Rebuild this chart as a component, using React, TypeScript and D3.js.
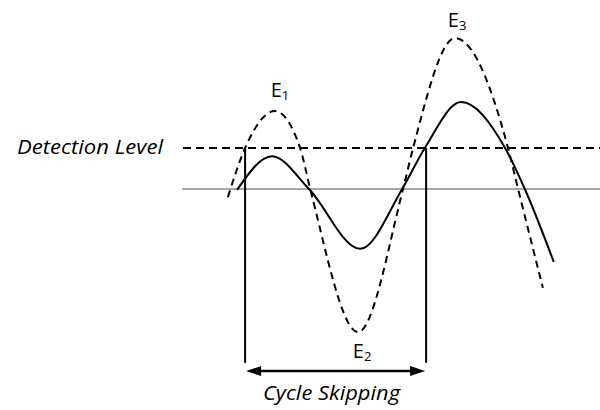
import React from "react";
import * as d3 from "d3";

// Time (arbitrary units) and amplitude (detection level = 1) samples
const solidT = [1.36, 2.19, 3.07, 4.29, 5.29, 5.83, 6.69, 7.74, 8.21, 8.9];
const solidA = [-0.02, 0.8, 0.0, -1.46, 0.0, 1.0, 2.12, 1.0, 0.0, -1.78];

const dashedT = [1.14, 1.55, 2.26, 2.86, 3.1, 4.24, 5.31, 5.55, 6.55, 7.81, 8.05, 8.64];
const dashedA = [-0.2, 1.0, 1.9, 1.0, 0.0, -3.49, 0.0, 1.0, 3.68, 1.0, 0.0, -2.41];

const detectionLevel = 1.0;
const skipStartT = 1.55;
const skipEndT = 5.86;

const extremaLabels = ["E", "E", "E"];
const extremaSubs = ["1", "2", "3"];
const extremaIdx = [2, 5, 8]; // indices into dashed series

const W = 600;
const H = 410;

export default function App() {
  const x = d3.scaleLinear().domain([0, 10]).range([180, 600]);
  const y = d3.scaleLinear().domain([0, 1]).range([189, 148]);

  const solidPts: [number, number][] = solidT.map((t, i) => [x(t), y(solidA[i])]);
  const dashedPts: [number, number][] = dashedT.map((t, i) => [x(t), y(dashedA[i])]);

  const line = d3.line().curve(d3.curveMonotoneX);

  const vBottom = y(-4.24);
  const arrowY = y(-4.44);
  const xs = x(skipStartT);
  const xe = x(skipEndT);
  const ah = 15;
  const aw = 5;

  const labelDx = [5, 4, 2];
  const labelDy = [-14, 26, -11];

  const font = "'Open Sans', sans-serif";

  return (
    <svg
      width={W}
      height={H}
      style={{ position: "absolute", left: 0, top: 0, background: "#fff" }}
    >
      {/* baseline */}
      <line x1={182} x2={W} y1={y(0)} y2={y(0)} stroke="#a6a6a6" strokeWidth={2} />
      {/* detection level */}
      <line
        x1={183}
        x2={W}
        y1={y(detectionLevel)}
        y2={y(detectionLevel)}
        stroke="#000"
        strokeWidth={1.8}
        strokeDasharray="8,5"
      />
      <text
        x={17}
        y={154}
        textLength={146}
        lengthAdjust="spacingAndGlyphs"
        fontFamily={font}
        fontStyle="italic"
        fontSize={20}
        fill="#000"
      >
        Detection Level
      </text>

      {/* curves */}
      <path d={line(dashedPts) || ""} fill="none" stroke="#000" strokeWidth={2} strokeDasharray="7,5" />
      <path d={line(solidPts) || ""} fill="none" stroke="#000" strokeWidth={2} />

      {/* vertical markers */}
      <line x1={xs} x2={xs} y1={y(detectionLevel)} y2={vBottom} stroke="#000" strokeWidth={2} />
      <line x1={xe} x2={xe} y1={y(detectionLevel)} y2={vBottom} stroke="#000" strokeWidth={2} />

      {/* arrow */}
      <line x1={xs + ah - 2} x2={xe - ah + 2} y1={arrowY} y2={arrowY} stroke="#000" strokeWidth={2.5} />
      <path d={`M${xs + 1},${arrowY} L${xs + 1 + ah},${arrowY - aw} L${xs + 1 + ah},${arrowY + aw} Z`} fill="#000" />
      <path d={`M${xe - 1},${arrowY} L${xe - 1 - ah},${arrowY - aw} L${xe - 1 - ah},${arrowY + aw} Z`} fill="#000" />
      <text
        x={263}
        y={400}
        textLength={137}
        lengthAdjust="spacingAndGlyphs"
        fontFamily={font}
        fontStyle="italic"
        fontSize={20}
        fill="#000"
      >
        Cycle Skipping
      </text>

      {/* extrema labels */}
      {extremaIdx.map((idx, i) => (
        <text
          key={i}
          x={dashedPts[idx][0] + labelDx[i]}
          y={dashedPts[idx][1] + labelDy[i]}
          textAnchor="middle"
          fontFamily={font}
          fontSize={20}
          fill="#000"
        >
          {extremaLabels[i]}
          <tspan fontSize={13} dy={3}>
            {extremaSubs[i]}
          </tspan>
        </text>
      ))}
    </svg>
  );
}
